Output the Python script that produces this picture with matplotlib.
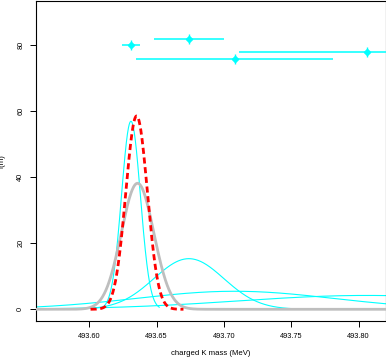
import matplotlib
matplotlib.use("Agg")
import matplotlib.pyplot as plt
import numpy as np

# measurements (charged K mass, MeV) and where they sit on the ideogram
mass = [493.631, 493.674, 493.708, 493.806]
err = [0.007, 0.026, 0.073, 0.095]
y_pos = [80, 82, 76, 78]

# overall curves: mean, sigma, peak height, x range
avg_mean, avg_sigma, avg_peak = 493.6352, 0.0080, 58.6
avg_range = (493.601, 493.670)
sum_mean, sum_sigma, sum_peak = 493.6359, 0.0121, 38.2

xticks = [493.60, 493.65, 493.70, 493.75, 493.80]
yticks = [0, 20, 40, 60, 80]

plt.rcParams['font.family'] = ['Liberation Sans', 'DejaVu Sans']

fig = plt.figure(figsize=(3.86, 3.59), dpi=100)
ax = fig.add_axes([36 / 386, 38 / 359, 349.5 / 386, 320.5 / 359])
xmin, xmax = 493.5605, 493.8200

# one gaussian per measurement, drawn over mean +- 3 sigma
for m, e in zip(mass, err):
    lo = max(m - 3 * e, xmin)
    hi = min(m + 3 * e, xmax)
    xs = np.linspace(lo, hi, 400)
    ys = np.exp(-0.5 * ((xs - m) / e) ** 2) / (e * np.sqrt(2 * np.pi))
    ax.plot(xs, ys, color='#00FFFF', lw=0.8, zorder=2)

xs = np.linspace(xmin, xmax, 800)
ax.plot(xs, sum_peak * np.exp(-0.5 * ((xs - sum_mean) / sum_sigma) ** 2),
        color='#BEBEBE', lw=2.0, zorder=3)

xr = np.linspace(avg_range[0], avg_range[1], 300)
ax.plot(xr, avg_peak * np.exp(-0.5 * ((xr - avg_mean) / avg_sigma) ** 2),
        color='#FF0000', lw=2.0, ls=(0, (2.2, 1.3)), zorder=4)

# measurement points with horizontal error bars
ax.errorbar(mass, y_pos, xerr=err, fmt='none', ecolor='#00FFFF', elinewidth=1.1, zorder=5)
ax.plot(mass, y_pos, 'D', color='#00FFFF', ms=3.2, zorder=6)
ax.plot(mass, y_pos, '|', color='#00FFFF', ms=7, mew=1.0, zorder=6)

ax.set_xlim(xmin, xmax)
ax.set_ylim(-3.55, 93.6)
ax.set_xticks(xticks)
ax.set_xticklabels(['%.2f' % t for t in xticks])
ax.set_yticks(yticks)
ax.set_yticklabels([str(t) for t in yticks], rotation=90, va='center')
ax.tick_params(labelsize=5.3, length=4, width=0.7, pad=4.5)
for s in ax.spines.values():
    s.set_linewidth(0.8)

ax.set_xlabel('charged K mass (MeV)', fontsize=5.6, labelpad=7)
ax.set_ylabel('f(m)', fontsize=5.6, labelpad=10)
ax.yaxis.set_label_coords(-0.085, 0.5)

fig.savefig('out.png', dpi=100)
